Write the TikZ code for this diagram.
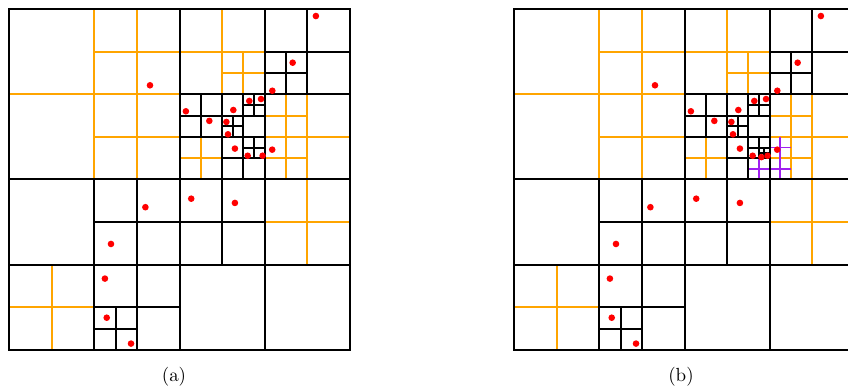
\documentclass[tikz,border=0pt]{standalone}
\definecolor{qorange}{RGB}{255,165,0}
\definecolor{qpurple}{RGB}{160,32,240}
\tikzset{
  blk/.style={black, line width=1.0pt},
  org/.style={qorange, line width=0.95pt},
  pur/.style={qpurple, line width=0.95pt},
  dotpt/.style={fill=red},
  lbl/.style={font=\fontsize{9.5}{11}\selectfont, inner sep=0pt},
}
\newcommand\qtorange{%
  \draw[org] (8,0)--(8,16) (0,8)--(16,8) (12,0)--(12,16) (8,4)--(24,4)
    (8,12)--(16,12) (20,0)--(20,8) (22,4)--(22,8) (20,6)--(24,6)
    (28,8)--(28,24) (24,12)--(32,12) (26,8)--(26,16) (24,10)--(28,10)
    (24,14)--(28,14) (18,12)--(18,16) (16,14)--(20,14) (4,24)--(4,32)
    (0,28)--(8,28) (24,20)--(32,20);}
\newcommand\qtblack{%
  \draw[blk] (0,0) rectangle (32,32)
    (16,0)--(16,32) (0,16)--(32,16) (24,0)--(24,32) (16,8)--(32,8)
    (28,0)--(28,8) (24,4)--(32,4) (26,4)--(26,8) (24,6)--(28,6)
    (20,8)--(20,24) (16,12)--(24,12) (18,8)--(18,12) (16,10)--(24,10)
    (22,8)--(22,16) (23,8)--(23,10) (22,9)--(24,9) (21,10)--(21,12)
    (20,11)--(22,11) (20,14)--(24,14) (23,12)--(23,14) (22,13)--(24,13)
    (8,16)--(8,32) (0,24)--(32,24) (12,16)--(12,32) (8,20)--(24,20)
    (8,28)--(16,28) (10,28)--(10,32) (8,30)--(12,30);}
\newcommand\qtdots{%
  \foreach \px/\py in {28.8/0.66, 26.62/5.04, 24.71/7.67, 13.23/7.16,
      16.6/9.6, 18.8/10.5, 20.4/10.6, 20.55/11.76, 21.05/9.48,
      22.55/8.63, 23.65/8.45, 21.2/13.1, 22.4/13.77, 23.8/13.77,
      24.7/13.2, 12.8/18.6, 9.57/22.05, 9.0/25.3, 9.17/28.97,
      11.45/31.4, 17.1/17.8, 21.2/18.2}
    {\fill[dotpt] (\px,\py) circle[radius=0.31];}}
\begin{document}
\begin{tikzpicture}[x=0.5pt,y=-0.5pt]
\useasboundingbox (0,0) rectangle (848,389);
\clip (0,0) rectangle (848,389);
% panel (a)
\begin{scope}[shift={(9,9)},scale=10.65625]
  \qtorange
  \qtblack
  \qtdots
\end{scope}
% panel (b)
\begin{scope}[shift={(514,9)},scale=10.65625]
  \qtorange
  \draw[pur] (25,12)--(25,16) (24,13)--(26,13) (22,15)--(26,15) (23,14)--(23,16);
  \qtblack
  \draw[blk] (23.5,13)--(23.5,14) (23,13.5)--(24,13.5);
  \qtdots
  \fill[dotpt] (23.22,13.9) circle[radius=0.31];
\end{scope}
\node[lbl] (la) at (174,377) {(a)};
\node[lbl] (lb) at (681,377) {(b)};
\end{tikzpicture}
\end{document}
